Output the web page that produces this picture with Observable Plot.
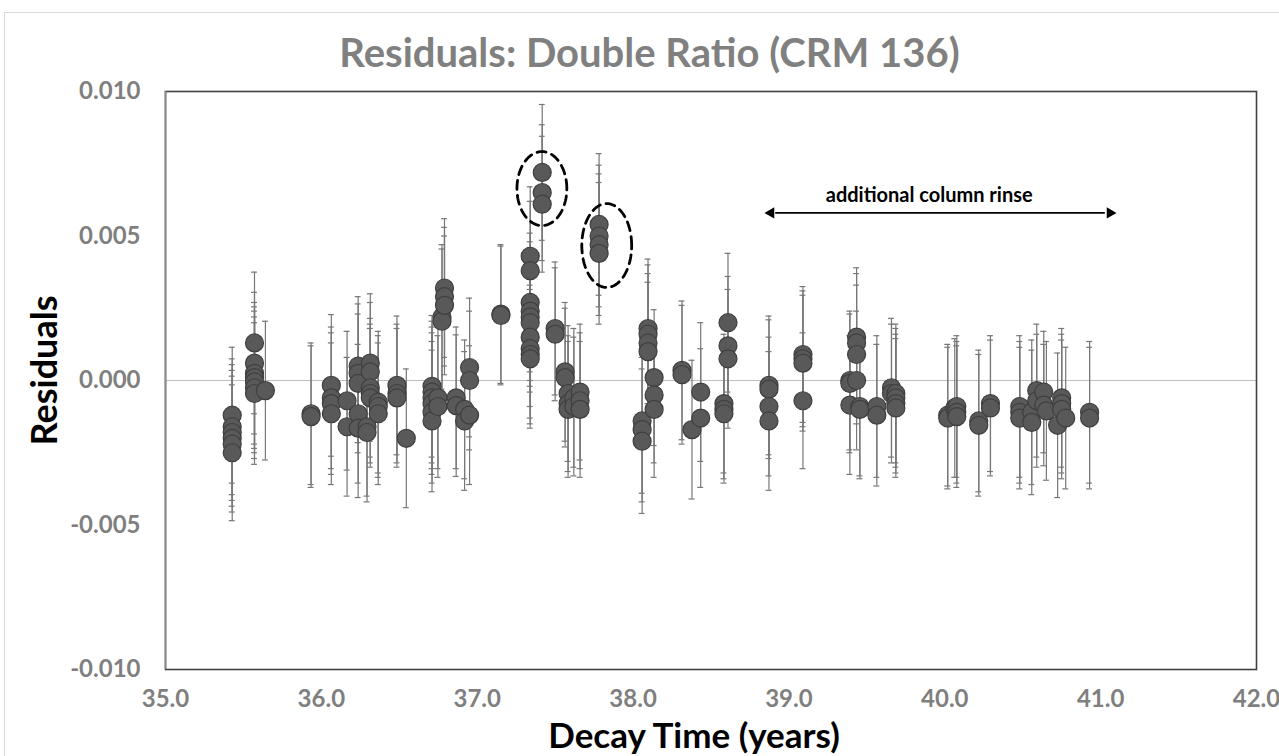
<!DOCTYPE html>
<html>
<head>
<meta charset="utf-8">
<script src="https://cdn.jsdelivr.net/npm/d3@7"></script>
<script src="https://cdn.jsdelivr.net/npm/@observablehq/plot@0.6"></script>
<style>
  html, body { margin: 0; padding: 0; background: #fff; overflow: hidden; }
  #wrap { position: relative; width: 1279px; height: 756px; overflow: hidden; font-family: Lato, "Open Sans", sans-serif; }
  #border { position: absolute; left: 4px; top: 12px; width: 1400px; height: 900px; border: 1px solid #d9d9d9; }
  #title { position: absolute; left: 10px; top: 28px; width: 1279px; text-align: center; font-size: 40px; font-weight: bold; color: #808080; line-height: 48px; }
  #chart { position: absolute; left: 0; top: 80px; }
  #chart svg text { font-family: Lato, "Open Sans", sans-serif; }
</style>
</head>
<body>
<div id="wrap">
  <div id="border"></div>
  <div id="title">Residuals: Double Ratio (CRM 136)</div>
  <div id="chart"></div>
</div>
<script>
// ---- data ----
const runTime = [35.428, 35.571, 35.641, 35.934, 36.064, 36.165, 36.236, 36.293, 36.314, 36.365,
  36.485, 36.545, 36.710, 36.748, 36.774, 36.790, 36.865, 36.919, 36.951, 37.152,
  37.340, 37.417, 37.500, 37.564, 37.583, 37.620, 37.660, 37.782, 38.058, 38.096,
  38.135, 38.314, 38.378, 38.434, 38.583, 38.609, 38.872, 39.090, 39.391, 39.434,
  39.455, 39.564, 39.658, 39.686, 40.019, 40.064, 40.077, 40.218, 40.293, 40.481,
  40.558, 40.590, 40.635, 40.652, 40.724, 40.750, 40.776, 40.929];

const runResidual = [
  [-0.0012, -0.0016, -0.0018, -0.0020, -0.0022, -0.0025],
  [0.0013, 0.0006, 0.00025, 0.0001, -0.00005, -0.00025, -0.00045],
  [-0.00035],
  [-0.00115, -0.00125],
  [-0.00017, -0.0006, -0.0008, -0.00115],
  [-0.0007, -0.0016],
  [0.0005, 0.00025, -0.0001, -0.00115, -0.00165],
  [-0.0016, -0.0018],
  [0.0006, 0.0003, -0.00025, -0.00045, -0.0006],
  [-0.00075, -0.0009, -0.00115],
  [-0.00017, -0.00045, -0.0006],
  [-0.0020],
  [-0.0002, -0.0004, -0.0006, -0.0008, -0.0011, -0.0014],
  [-0.0006, -0.0009],
  [0.0022, 0.00205],
  [0.0032, 0.0029, 0.0026],
  [-0.0006, -0.00087],
  [-0.0010, -0.0014],
  [0.00045, 0.0, -0.0012],
  [0.0023, 0.00225],
  [0.0043, 0.0038, 0.0027, 0.0024, 0.0022, 0.0020, 0.0015, 0.0011, 0.0009, 0.00075],
  [0.0072, 0.0065, 0.0061],
  [0.0018, 0.0016],
  [0.0003, 0.0001],
  [-0.00045, -0.0008, -0.0010],
  [-0.0006, -0.0009],
  [-0.0004, -0.0007, -0.0010],
  [0.0054, 0.0050, 0.0047, 0.0044],
  [-0.0014, -0.0017, -0.0021],
  [0.0018, 0.0016, 0.0013, 0.0010],
  [0.0001, -0.0005, -0.0010],
  [0.00035, 0.0002],
  [-0.0017],
  [-0.0004, -0.0013],
  [-0.0008, -0.0010, -0.00115],
  [0.0020, 0.0012, 0.00075],
  [-0.00017, -0.0003, -0.0009, -0.0014],
  [0.0009, 0.00075, 0.0006, -0.0007],
  [0.0, -0.0001, -0.00085],
  [0.0015, 0.0013, 0.0009, 0.0],
  [-0.0009, -0.0010],
  [-0.0009, -0.0012],
  [-0.00025, -0.00045],
  [-0.00045, -0.0006, -0.0008, -0.00095],
  [-0.0012, -0.0013],
  [-0.00095],
  [-0.0009, -0.0011, -0.00125],
  [-0.0014, -0.00155],
  [-0.0008, -0.00095],
  [-0.0009, -0.0011, -0.0013],
  [-0.0011, -0.00145],
  [-0.00035, -0.0007],
  [-0.0004, -0.00085],
  [-0.00105],
  [-0.00155],
  [-0.0006, -0.0008, -0.0010],
  [-0.0013],
  [-0.0011, -0.0013]
];

const runUncertainty = [0.00235, 0.00245, 0.0024, 0.00245, 0.00245, 0.0024, 0.0024, 0.0024, 0.0024, 0.00245,
  0.0024, 0.0024, 0.00245, 0.00245, 0.0025, 0.0024, 0.00245, 0.0024, 0.0024, 0.0024,
  0.0024, 0.00235, 0.0023, 0.0024, 0.00235, 0.0024, 0.00235, 0.00245, 0.0025, 0.0024,
  0.00235, 0.0024, 0.0024, 0.0024, 0.0024, 0.0024, 0.0024, 0.00235, 0.0024, 0.0024,
  0.0024, 0.00245, 0.0024, 0.0024, 0.00245, 0.0024, 0.00245, 0.00245, 0.00235, 0.00245,
  0.0025, 0.0023, 0.0021, 0.0024, 0.0025, 0.0024, 0.00245, 0.00245];

const xTicks = [35, 36, 37, 38, 39, 40, 41, 42];
const yTicks = [-0.010, -0.005, 0.000, 0.005, 0.010];

// annotations
const ellipseCenterX = [37.415, 37.831];
const ellipseCenterY = [0.00664, 0.00467];
const ellipseRadiusX = [0.160, 0.160];
const ellipseRadiusY = [0.00128, 0.00145];

const rinseLabel = ["additional column rinse"];
const rinseLabelX = [39.90];
const rinseLabelY = [0.0064];
const rinseStart = [38.885];
const rinseEnd = [41.06];
const rinseY = [0.0058];

// ---- build tables ----
const points = runTime.flatMap((t, i) =>
  runResidual[i].map(r => ({time: t, residual: r, err: runUncertainty[i]})));

const ellipsePts = [];
ellipseCenterX.forEach((cx, k) => {
  for (let j = 0; j <= 96; j++) {
    const a = (j / 96) * 2 * Math.PI;
    ellipsePts.push({id: k, x: cx + ellipseRadiusX[k] * Math.cos(a), y: ellipseCenterY[k] + ellipseRadiusY[k] * Math.sin(a)});
  }
});

const arrowHeads = [
  {x: rinseStart[0], y: rinseY[0], rot: -90},
  {x: rinseEnd[0], y: rinseY[0], rot: 90}
];

const capHalf = 0.019;

const chart = Plot.plot({
  width: 1279,
  height: 676,
  marginLeft: 165,
  marginRight: 23,
  marginTop: 11,
  marginBottom: 87,
  style: {fontFamily: "Lato, 'Open Sans', sans-serif", fontSize: "24px", fontWeight: "bold", color: "#7f7f7f", background: "transparent", overflow: "visible"},
  x: {domain: [35, 42], ticks: xTicks, tickFormat: d => d.toFixed(1), tickSize: 0, tickPadding: 20, label: null},
  y: {domain: [-0.010, 0.010], ticks: yTicks, tickFormat: d => d.toFixed(3), tickSize: 0, tickPadding: 25, label: null},
  marks: [
    Plot.ruleY([0], {stroke: "#bfbfbf", strokeWidth: 1.2}),
    Plot.ruleX(points, {x: "time", y1: d => d.residual - d.err, y2: d => d.residual + d.err, stroke: "#777", strokeWidth: 1.2}),
    Plot.ruleY(points, {y: d => d.residual + d.err, x1: d => d.time - capHalf, x2: d => d.time + capHalf, stroke: "#777", strokeWidth: 1.2}),
    Plot.ruleY(points, {y: d => d.residual - d.err, x1: d => d.time - capHalf, x2: d => d.time + capHalf, stroke: "#777", strokeWidth: 1.2}),
    Plot.dot(points, {x: "time", y: "residual", r: 9, fill: "#595959", stroke: "#3f3f3f", strokeWidth: 1.2}),
    Plot.line(ellipsePts, {x: "x", y: "y", z: "id", stroke: "#000", strokeWidth: 2.8, strokeDasharray: "9,6"}),
    Plot.ruleY(rinseY, {y: d => d, x1: rinseStart[0] + 0.03, x2: rinseEnd[0] - 0.03, stroke: "#000", strokeWidth: 1.8}),
    Plot.dot(arrowHeads, {x: "x", y: "y", symbol: "triangle", r: 4.2, fill: "#000", stroke: "none", rotate: "rot"}),
    Plot.text(rinseLabel, {x: rinseLabelX, y: rinseLabelY, text: d => d, fill: "#000", fontSize: 20, fontWeight: "bold"}),
    Plot.frame({stroke: "#404040", strokeWidth: 1.6}),
    Plot.ruleX([35], {stroke: "#8a8a8a", strokeWidth: 1.6}),
    Plot.text(["Decay Time (years)"], {frameAnchor: "bottom", textAnchor: "middle", dx: -17, dy: 78, fill: "#000", fontSize: 35, fontWeight: "bold"}),
    Plot.text(["Residuals"], {frameAnchor: "left", textAnchor: "middle", dx: -120, dy: -10, rotate: -90, fill: "#000", fontSize: 36, fontWeight: "bold"})
  ]
});

document.getElementById("chart").appendChild(chart);
</script>
</body>
</html>
